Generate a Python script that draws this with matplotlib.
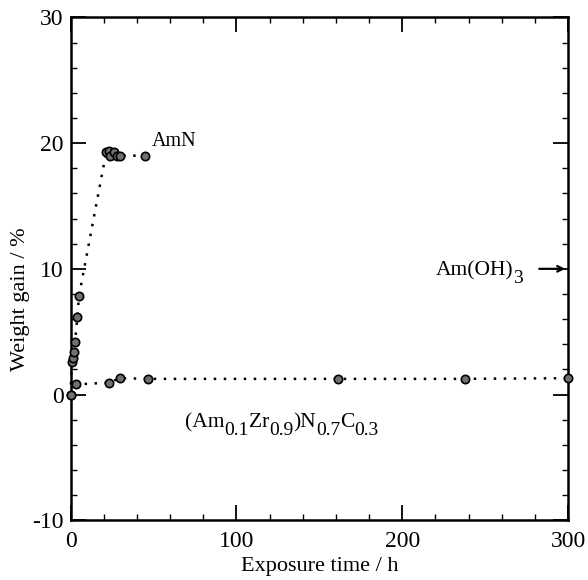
import matplotlib
matplotlib.use("Agg")
import matplotlib.pyplot as plt
from matplotlib.ticker import MultipleLocator
from matplotlib.transforms import offset_copy

plt.rcParams['font.family'] = ['Liberation Serif', 'DejaVu Serif']
plt.rcParams['axes.unicode_minus'] = False

# AmN
amn_t = [0, 0.7, 1.3, 2.1, 2.7, 4.1, 5.1, 21.5, 23, 24, 26, 28, 30, 45]
amn_w = [0, 2.6, 2.9, 3.4, 4.2, 6.2, 7.85, 19.3, 19.4, 19.0, 19.3, 19.0, 19.0, 19.0]

# (Am0.1Zr0.9)N0.7C0.3
amzr_t = [0, 3.3, 23, 30, 47, 161, 238, 300]
amzr_w = [0, 0.8, 0.95, 1.3, 1.25, 1.25, 1.25, 1.3]

# Am(OH)3 theoretical weight gain
amoh_w = 10.0

fig = plt.figure(figsize=(5.88, 5.80), dpi=100)
ax = fig.add_axes([0.12, 0.103, 0.846, 0.867])

for t, w in [(amn_t, amn_w), (amzr_t, amzr_w)]:
    ax.plot(t, w, linestyle=(0, (1, 3)), color='black', lw=1.8,
            marker='o', ms=6, mfc='#707070', mec='black', mew=1.2,
            clip_on=False, zorder=3)

ax.set_xlim(0, 300)
ax.set_ylim(-10, 30)
ax.xaxis.set_major_locator(MultipleLocator(100))
ax.xaxis.set_minor_locator(MultipleLocator(20))
ax.yaxis.set_major_locator(MultipleLocator(10))
ax.yaxis.set_minor_locator(MultipleLocator(2))
ax.tick_params(which='both', direction='in', top=True, right=True, labelsize=17)
ax.tick_params(which='major', length=11, width=1.3)
ax.tick_params(which='minor', length=4.5, width=1.0)
ax.tick_params(axis='x', pad=8)
ax.tick_params(axis='y', pad=5)
for s in ax.spines.values():
    s.set_linewidth(1.8)

ax.set_xlabel('Exposure time / h', fontsize=16, labelpad=3)
ax.set_ylabel('Weight gain / %', fontsize=16)
ax.yaxis.set_label_coords(-0.082, 0.44)

fig.canvas.draw()
renderer = fig.canvas.get_renderer()


def chem(x, y, parts, size=15.5, subsize=14, drop=8, va='baseline'):
    # draw formula piece by piece so subscripts keep a readable size
    dx = 0
    for s, sub in parts:
        tr = offset_copy(ax.transData, fig=fig, x=dx, y=-drop if sub else 0, units='dots')
        t = ax.text(x, y, s, fontsize=subsize if sub else size, transform=tr, va=va)
        dx += t.get_window_extent(renderer).width


ax.text(49, 19.8, 'AmN', fontsize=14.5)
chem(220, 9.5, [('Am(OH)', False), ('3', True)])
ax.annotate('', xy=(300, amoh_w), xytext=(281, amoh_w),
            arrowprops=dict(arrowstyle='->', color='black', lw=1.6))
chem(69, -2.6, [('(Am', False), ('0.1', True), ('Zr', False), ('0.9', True),
                (')N', False), ('0.7', True), ('C', False), ('0.3', True)])

fig.savefig('out.png', dpi=100)
